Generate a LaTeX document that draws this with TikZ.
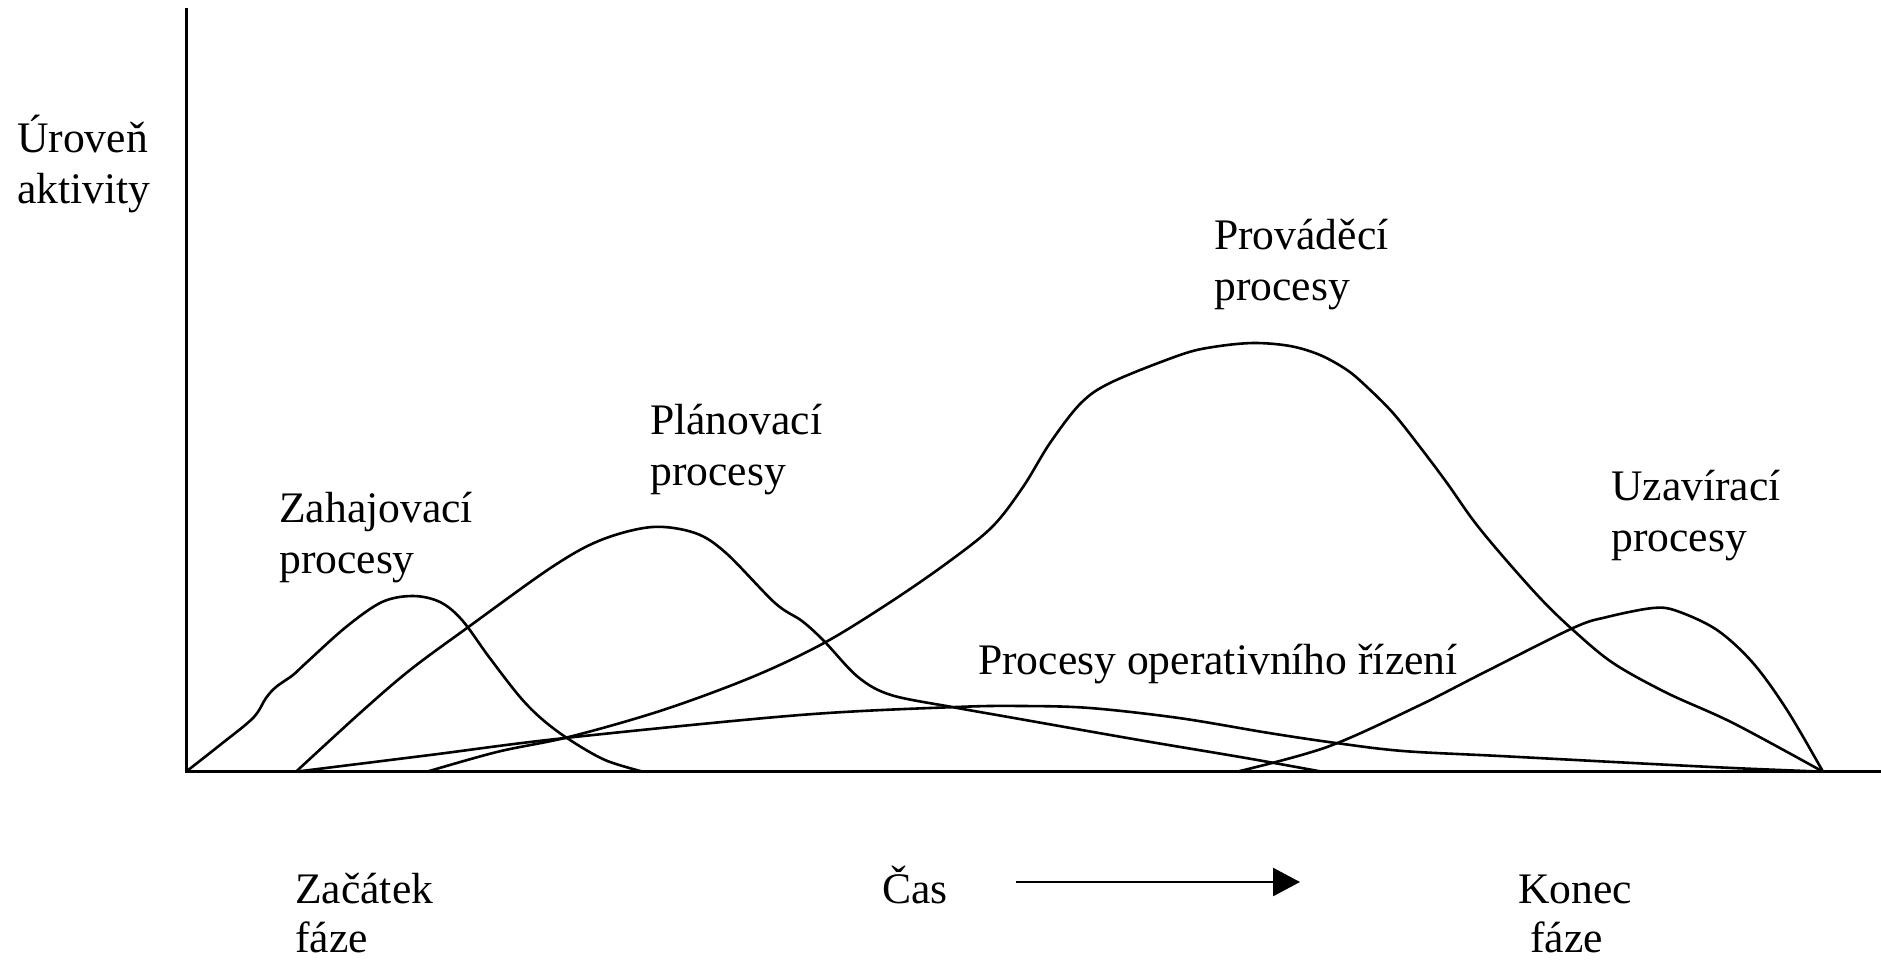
\documentclass[tikz,border=0pt]{standalone}
\usepackage{fontspec}
\setmainfont{Liberation Serif}
\usetikzlibrary{arrows.meta}
\begin{document}
\begin{tikzpicture}[x=1pt,y=-1pt,
  lbl/.style={anchor=base west,inner sep=0pt,font=\fontsize{43.6}{51}\selectfont},
  axis/.style={line width=3pt},
  curve/.style={line width=2.6pt,smooth,tension=0.55},
  timearrow/.style={line width=2.6pt,-{Triangle[length=27pt,width=28pt]}}]
\useasboundingbox (0,0) rectangle (1881,959);

% axes
\coordinate (origin) at (186,771.7);
\coordinate (ytop) at (186,8);
\coordinate (xend) at (1881,771.7);
\draw[axis] (ytop) -- (origin) -- (xend);

% initiating processes
\draw[curve] plot coordinates {(186,771.7) (220,745) (253,718) (266,698) (276,687)
  (293,675) (306,663) (346,627) (382,602) (413,596) (440,602) (462,620) (489,657)
  (520,697) (543,720) (570,740) (605,760) (643,771.7)};
% planning processes
\draw[curve] plot coordinates {(296,771.7) (360,713) (410,670) (467,628) (552,567)
  (601,540) (652,527) (695,533) (726,553) (775,603) (802,621) (824,641) (858,677)
  (891,695) (952,707) (1014,718) (1139,740) (1246,758) (1322,771.7)};
% executing processes
\draw[curve] plot coordinates {(427,771.7) (498,751.7) (570,736.7) (663,710)
  (753,676.7) (824,643) (889,603) (947,563) (992,527) (1023,487) (1050,443)
  (1081,403) (1112,382) (1180,355) (1213,347) (1253,343) (1290,346) (1320,355)
  (1347,370) (1367,387) (1393,413) (1420,447) (1447,483) (1473,520) (1500,553)
  (1540,598) (1573,630) (1613,663) (1667,693) (1733,723) (1823,771.7)};
% closing processes
\draw[curve] plot coordinates {(1237,771.7) (1327,747) (1416,707) (1483,673)
  (1573,628) (1607,617) (1653,608) (1677,611) (1717,630) (1753,663) (1787,710)
  (1823,771.7)};
% monitoring and controlling processes
\draw[curve] plot coordinates {(296,771.7) (430,755) (565,738) (800,715) (956,707)
  (1023,706) (1090,708) (1179,718) (1269,733) (1336,743) (1403,751) (1500,756)
  (1633,763) (1733,768) (1823,771.7)};

% labels
\node[lbl] (yl1) at (17,152) {Úroveň};
\node[lbl] (yl2) at (17,203) {aktivity};
\node[lbl] (zah1) at (279,522) {Zahajovací};
\node[lbl] (zah2) at (279,573) {procesy};
\node[lbl] (pla1) at (650,434) {Plánovací};
\node[lbl] (pla2) at (650,485) {procesy};
\node[lbl] (pro1) at (1214,249) {Prováděcí};
\node[lbl] (pro2) at (1214,300) {procesy};
\node[lbl] (uza1) at (1611,500) {Uzavírací};
\node[lbl] (uza2) at (1611,551) {procesy};
\node[lbl] (ope) at (978,674) {Procesy operativního řízení};
\node[lbl] (zac1) at (295,903) {Začátek};
\node[lbl] (zac2) at (295,952) {fáze};
\node[lbl] (cas) at (882,903) {Čas};
\node[lbl] (kon1) at (1518,903) {Konec};
\node[lbl] (kon2) at (1530,952) {fáze};

% time arrow
\coordinate (tstart) at (1016,882);
\coordinate (tend) at (1300,882);
\draw[timearrow] (tstart) -- (tend);
\end{tikzpicture}
\end{document}
